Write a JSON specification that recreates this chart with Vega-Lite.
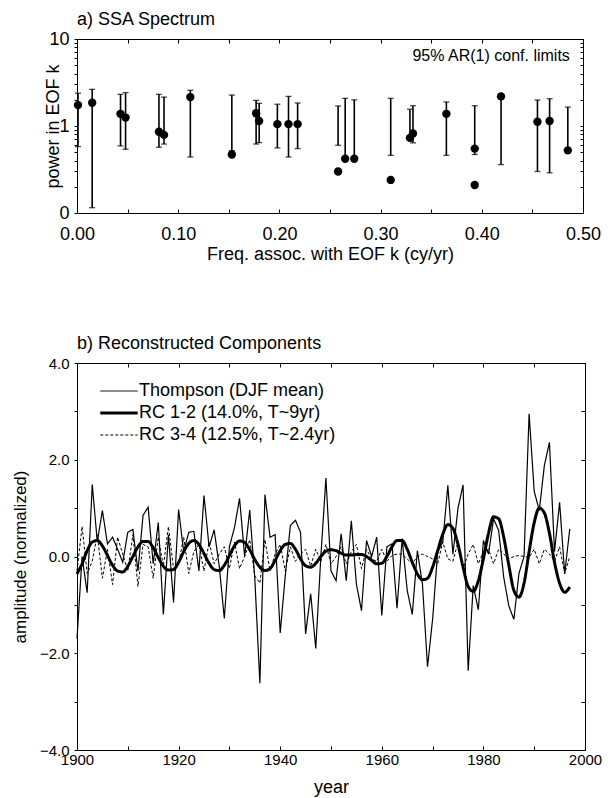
{
  "$schema": "https://vega.github.io/schema/vega-lite/v6.json",
  "padding": {"left": 10, "top": 10, "right": 10, "bottom": 0},
  "spacing": 70,
  "resolve": {"legend": {"strokeDash": "independent"}, "scale": {"strokeDash": "independent"}},
  "config": {
    "font": "Liberation Sans",
    "view": {"stroke": "black", "strokeWidth": 1},
    "scale": {"continuousPadding": 0},
    "axis": {"grid": false, "labelFlush": false, "domainColor": "black", "tickColor": "black", "labelColor": "black", "titleColor": "black", "titleFontWeight": "normal", "labelFont": "Liberation Sans", "titleFont": "Liberation Sans"},
    "title": {"fontWeight": "normal", "color": "black", "font": "Liberation Sans"}
  },
  "datasets": {
    "points": [
      {"f": 0.001, "p": 1.74}, {"f": 0.015, "p": 1.85}, {"f": 0.043, "p": 1.38}, {"f": 0.048, "p": 1.25},
      {"f": 0.081, "p": 0.86}, {"f": 0.086, "p": 0.79}, {"f": 0.112, "p": 2.15}, {"f": 0.153, "p": 0.47},
      {"f": 0.177, "p": 1.40}, {"f": 0.180, "p": 1.14}, {"f": 0.198, "p": 1.05}, {"f": 0.209, "p": 1.05},
      {"f": 0.218, "p": 1.05}, {"f": 0.258, "p": 0.30}, {"f": 0.265, "p": 0.42}, {"f": 0.274, "p": 0.42},
      {"f": 0.310, "p": 0.24}, {"f": 0.329, "p": 0.73}, {"f": 0.332, "p": 0.82}, {"f": 0.365, "p": 1.38},
      {"f": 0.393, "p": 0.55}, {"f": 0.393, "p": 0.21}, {"f": 0.419, "p": 2.19}, {"f": 0.455, "p": 1.12},
      {"f": 0.467, "p": 1.14}, {"f": 0.485, "p": 0.525}
    ],
    "bars": [
      {"f": 0.001, "lo": 0.58, "hi": 2.38}, {"f": 0.015, "lo": 0.115, "hi": 2.64}, {"f": 0.043, "lo": 0.59, "hi": 2.31},
      {"f": 0.048, "lo": 0.54, "hi": 2.42}, {"f": 0.081, "lo": 0.57, "hi": 2.31}, {"f": 0.086, "lo": 0.62, "hi": 2.15},
      {"f": 0.112, "lo": 0.44, "hi": 2.57}, {"f": 0.153, "lo": 0.52, "hi": 2.27}, {"f": 0.177, "lo": 0.62, "hi": 1.97},
      {"f": 0.180, "lo": 0.645, "hi": 1.82}, {"f": 0.198, "lo": 0.56, "hi": 1.78}, {"f": 0.209, "lo": 0.44, "hi": 2.19},
      {"f": 0.218, "lo": 0.55, "hi": 1.84}, {"f": 0.258, "lo": 0.60, "hi": 1.70}, {"f": 0.265, "lo": 0.42, "hi": 2.08},
      {"f": 0.274, "lo": 0.42, "hi": 2.00}, {"f": 0.310, "lo": 0.46, "hi": 2.08}, {"f": 0.329, "lo": 0.71, "hi": 1.56},
      {"f": 0.332, "lo": 0.64, "hi": 1.71}, {"f": 0.365, "lo": 0.46, "hi": 1.89}, {"f": 0.393, "lo": 0.47, "hi": 1.71},
      {"f": 0.419, "lo": 0.36, "hi": 2.19}, {"f": 0.455, "lo": 0.30, "hi": 1.99}, {"f": 0.467, "lo": 0.29, "hi": 2.06},
      {"f": 0.485, "lo": 0.525, "hi": 1.65}
    ],
    "series": [
      {"year": 1900, "T": -1.70, "RC12": -0.36, "RC34": -0.30},
      {"year": 1901, "T": 0.00, "RC12": -0.15, "RC34": 0.62},
      {"year": 1902, "T": -0.75, "RC12": 0.12, "RC34": -0.35},
      {"year": 1903, "T": 1.49, "RC12": 0.30, "RC34": -0.10},
      {"year": 1904, "T": 0.30, "RC12": 0.33, "RC34": 0.45},
      {"year": 1905, "T": 0.95, "RC12": 0.22, "RC34": -0.45},
      {"year": 1906, "T": 0.26, "RC12": 0.02, "RC34": 0.15},
      {"year": 1907, "T": 0.40, "RC12": -0.18, "RC34": -0.58},
      {"year": 1908, "T": 0.15, "RC12": -0.30, "RC34": 0.40},
      {"year": 1909, "T": -0.12, "RC12": -0.32, "RC34": 0.05},
      {"year": 1910, "T": 0.50, "RC12": -0.20, "RC34": -0.30},
      {"year": 1911, "T": 0.56, "RC12": 0.00, "RC34": 0.45},
      {"year": 1912, "T": -0.30, "RC12": 0.20, "RC34": -0.62},
      {"year": 1913, "T": 0.85, "RC12": 0.31, "RC34": 0.25},
      {"year": 1914, "T": 1.02, "RC12": 0.31, "RC34": 0.20},
      {"year": 1915, "T": -0.15, "RC12": 0.18, "RC34": -0.45},
      {"year": 1916, "T": 0.70, "RC12": -0.02, "RC34": 0.40},
      {"year": 1917, "T": -1.20, "RC12": -0.20, "RC34": -0.20},
      {"year": 1918, "T": 0.45, "RC12": -0.28, "RC34": 0.62},
      {"year": 1919, "T": -0.95, "RC12": -0.27, "RC34": -0.25},
      {"year": 1920, "T": 0.97, "RC12": -0.12, "RC34": -0.15},
      {"year": 1921, "T": 0.10, "RC12": 0.10, "RC34": 0.40},
      {"year": 1922, "T": 0.50, "RC12": 0.27, "RC34": -0.35},
      {"year": 1923, "T": 0.52, "RC12": 0.33, "RC34": 0.10},
      {"year": 1924, "T": -0.30, "RC12": 0.25, "RC34": 0.25},
      {"year": 1925, "T": 1.26, "RC12": 0.06, "RC34": -0.30},
      {"year": 1926, "T": 0.20, "RC12": -0.14, "RC34": 0.30},
      {"year": 1927, "T": 0.55, "RC12": -0.27, "RC34": -0.15},
      {"year": 1928, "T": -0.20, "RC12": -0.29, "RC34": 0.05},
      {"year": 1929, "T": -1.28, "RC12": -0.18, "RC34": 0.20},
      {"year": 1930, "T": 0.20, "RC12": 0.02, "RC34": -0.25},
      {"year": 1931, "T": 0.60, "RC12": 0.22, "RC34": 0.30},
      {"year": 1932, "T": 1.20, "RC12": 0.32, "RC34": -0.25},
      {"year": 1933, "T": 0.00, "RC12": 0.29, "RC34": 0.00},
      {"year": 1934, "T": 0.96, "RC12": 0.14, "RC34": 0.35},
      {"year": 1935, "T": -0.45, "RC12": -0.06, "RC34": -0.40},
      {"year": 1936, "T": -2.62, "RC12": -0.22, "RC34": -0.55},
      {"year": 1937, "T": 1.28, "RC12": -0.29, "RC34": 0.35},
      {"year": 1938, "T": 0.40, "RC12": -0.25, "RC34": -0.30},
      {"year": 1939, "T": 0.45, "RC12": -0.08, "RC34": 0.05},
      {"year": 1940, "T": -1.58, "RC12": 0.12, "RC34": 0.25},
      {"year": 1941, "T": -0.40, "RC12": 0.25, "RC34": -0.30},
      {"year": 1942, "T": 0.64, "RC12": 0.27, "RC34": 0.20},
      {"year": 1943, "T": 0.75, "RC12": 0.15, "RC34": -0.10},
      {"year": 1944, "T": 0.50, "RC12": -0.05, "RC34": 0.05},
      {"year": 1945, "T": -1.60, "RC12": -0.19, "RC34": 0.15},
      {"year": 1946, "T": -0.77, "RC12": -0.22, "RC34": -0.20},
      {"year": 1947, "T": -1.90, "RC12": -0.14, "RC34": 0.15},
      {"year": 1948, "T": 0.00, "RC12": 0.00, "RC34": -0.10},
      {"year": 1949, "T": 1.62, "RC12": 0.11, "RC34": 0.25},
      {"year": 1950, "T": -0.30, "RC12": 0.14, "RC34": -0.15},
      {"year": 1951, "T": -0.50, "RC12": 0.12, "RC34": 0.00},
      {"year": 1952, "T": 0.47, "RC12": 0.07, "RC34": 0.20},
      {"year": 1953, "T": -0.50, "RC12": 0.03, "RC34": -0.15},
      {"year": 1954, "T": 0.74, "RC12": 0.03, "RC34": 0.10},
      {"year": 1955, "T": -0.57, "RC12": 0.04, "RC34": 0.25},
      {"year": 1956, "T": -1.12, "RC12": 0.04, "RC34": -0.25},
      {"year": 1957, "T": 0.33, "RC12": 0.00, "RC34": 0.15},
      {"year": 1958, "T": 0.00, "RC12": -0.08, "RC34": -0.05},
      {"year": 1959, "T": 0.40, "RC12": -0.15, "RC34": -0.10},
      {"year": 1960, "T": -1.22, "RC12": -0.14, "RC34": 0.15},
      {"year": 1961, "T": 0.20, "RC12": 0.00, "RC34": -0.10},
      {"year": 1962, "T": 0.26, "RC12": 0.20, "RC34": 0.02},
      {"year": 1963, "T": -1.07, "RC12": 0.33, "RC34": 0.05},
      {"year": 1964, "T": 0.37, "RC12": 0.33, "RC34": 0.05},
      {"year": 1965, "T": -0.70, "RC12": 0.15, "RC34": -0.05},
      {"year": 1966, "T": -1.20, "RC12": -0.12, "RC34": -0.15},
      {"year": 1967, "T": 0.12, "RC12": -0.36, "RC34": 0.00},
      {"year": 1968, "T": -0.57, "RC12": -0.48, "RC34": 0.05},
      {"year": 1969, "T": -2.28, "RC12": -0.45, "RC34": 0.00},
      {"year": 1970, "T": -1.30, "RC12": -0.22, "RC34": -0.05},
      {"year": 1971, "T": 0.10, "RC12": 0.12, "RC34": -0.15},
      {"year": 1972, "T": 0.30, "RC12": 0.46, "RC34": 0.30},
      {"year": 1973, "T": 1.47, "RC12": 0.66, "RC34": -0.05},
      {"year": 1974, "T": 0.05, "RC12": 0.58, "RC34": -0.10},
      {"year": 1975, "T": 1.00, "RC12": 0.25, "RC34": 0.30},
      {"year": 1976, "T": 1.48, "RC12": -0.22, "RC34": -0.25},
      {"year": 1977, "T": -2.36, "RC12": -0.62, "RC34": 0.05},
      {"year": 1978, "T": -0.60, "RC12": -0.72, "RC34": 0.25},
      {"year": 1979, "T": -1.10, "RC12": -0.50, "RC34": -0.15},
      {"year": 1980, "T": 0.33, "RC12": -0.05, "RC34": 0.10},
      {"year": 1981, "T": 0.05, "RC12": 0.48, "RC34": 0.15},
      {"year": 1982, "T": 0.78, "RC12": 0.82, "RC34": -0.15},
      {"year": 1983, "T": 0.54, "RC12": 0.78, "RC34": 0.15},
      {"year": 1984, "T": -0.43, "RC12": 0.40, "RC34": 0.05},
      {"year": 1985, "T": -1.02, "RC12": -0.18, "RC34": -0.05},
      {"year": 1986, "T": -1.30, "RC12": -0.70, "RC34": 0.00},
      {"year": 1987, "T": -0.35, "RC12": -0.84, "RC34": 0.02},
      {"year": 1988, "T": 0.00, "RC12": -0.55, "RC34": 0.00},
      {"year": 1989, "T": 2.95, "RC12": 0.10, "RC34": -0.02},
      {"year": 1990, "T": 1.35, "RC12": 0.70, "RC34": 0.15},
      {"year": 1991, "T": 0.95, "RC12": 1.00, "RC34": -0.15},
      {"year": 1992, "T": 1.88, "RC12": 0.90, "RC34": 0.15},
      {"year": 1993, "T": 2.36, "RC12": 0.48, "RC34": 0.05},
      {"year": 1994, "T": 0.10, "RC12": -0.12, "RC34": -0.10},
      {"year": 1995, "T": 1.12, "RC12": -0.55, "RC34": 0.20},
      {"year": 1996, "T": -0.36, "RC12": -0.74, "RC34": -0.35},
      {"year": 1997, "T": 0.57, "RC12": -0.63, "RC34": 0.00}
    ]
  },
  "vconcat": [
    {
      "title": {"text": "a) SSA Spectrum", "anchor": "start", "frame": "group", "fontSize": 18, "offset": 1},
      "width": 506,
      "height": 174,
      "layer": [
        {
          "data": {"name": "bars"},
          "mark": {"type": "rule", "color": "black", "strokeWidth": 1.6},
          "encoding": {
            "x": {"field": "f", "type": "quantitative", "scale": {"domain": [0, 0.5], "padding": 0, "nice": false},
              "axis": {"values": [0, 0.05, 0.1, 0.15, 0.2, 0.25, 0.3, 0.35, 0.4, 0.45, 0.5], "labelExpr": "round(datum.value*100) % 10 == 0 ? format(datum.value, '.2f') : ''", "tickSize": -4, "labelPadding": 16, "labelFontSize": 18, "title": "Freq. assoc. with EOF k (cy/yr)", "titleFontSize": 18, "titlePadding": 2}},
            "y": {"field": "lo", "type": "quantitative", "scale": {"type": "log", "domain": [0.1, 10], "padding": 0, "nice": false},
              "axis": {"values": [0.1, 0.2, 0.3, 0.4, 0.5, 0.6, 0.7, 0.8, 0.9, 1, 2, 3, 4, 5, 6, 7, 8, 9, 10], "labelExpr": "datum.value == 10 ? '10' : (datum.value == 1 ? '1' : (datum.value == 0.1 ? '0' : ''))", "tickSize": 3, "labelPadding": 5, "labelFontSize": 18, "title": "power in EOF k", "titleFontSize": 18, "titlePadding": -14}},
            "y2": {"field": "hi"}
          }
        },
        {
          "data": {"name": "bars"},
          "mark": {"type": "tick", "orient": "horizontal", "color": "black", "size": 6, "thickness": 1.3},
          "encoding": {
            "x": {"field": "f", "type": "quantitative", "axis": null},
            "y": {"field": "lo", "type": "quantitative", "axis": null}
          }
        },
        {
          "data": {"name": "bars"},
          "mark": {"type": "tick", "orient": "horizontal", "color": "black", "size": 6, "thickness": 1.3},
          "encoding": {
            "x": {"field": "f", "type": "quantitative", "axis": null},
            "y": {"field": "hi", "type": "quantitative", "axis": null}
          }
        },
        {
          "data": {"name": "points"},
          "mark": {"type": "circle", "color": "black", "opacity": 1, "size": 70},
          "encoding": {
            "x": {"field": "f", "type": "quantitative", "axis": null},
            "y": {"field": "p", "type": "quantitative", "axis": null}
          }
        },
        {
          "data": {"values": [{"label": "95% AR(1) conf. limits"}]},
          "mark": {"type": "text", "align": "right", "baseline": "middle", "fontSize": 16, "color": "black"},
          "encoding": {
            "text": {"field": "label"},
            "x": {"datum": 0.487, "type": "quantitative", "axis": null},
            "y": {"datum": 6.3, "type": "quantitative", "axis": null}
          }
        },
        {
          "data": {"name": "points"},
          "mark": {"type": "point", "opacity": 0},
          "encoding": {
            "x": {"field": "f", "type": "quantitative", "axis": {"orient": "top", "values": [0, 0.05, 0.1, 0.15, 0.2, 0.25, 0.3, 0.35, 0.4, 0.45, 0.5], "labels": false, "tickSize": -4, "title": null}},
            "y": {"field": "p", "type": "quantitative", "axis": {"orient": "right", "values": [0.1, 0.2, 0.3, 0.4, 0.5, 0.6, 0.7, 0.8, 0.9, 1, 2, 3, 4, 5, 6, 7, 8, 9, 10], "labels": false, "tickSize": -3, "title": null}}
          }
        }
      ],
      "resolve": {"axis": {"x": "independent", "y": "independent"}}
    },
    {
      "title": {"text": "b) Reconstructed Components", "anchor": "start", "frame": "group", "fontSize": 18, "offset": 3},
      "width": 508,
      "height": 387,
      "data": {"name": "series"},
      "transform": [{"fold": ["T", "RC12", "RC34"], "as": ["series", "value"]}],
      "layer": [
        {
          "transform": [{"filter": "datum.series == 'T'"}],
          "mark": {"type": "line", "color": "black", "strokeWidth": 1.2},
          "encoding": {
            "x": {"field": "year", "type": "quantitative", "scale": {"domain": [1900, 2000], "padding": 0, "nice": false},
              "axis": {"values": [1900, 1910, 1920, 1930, 1940, 1950, 1960, 1970, 1980, 1990, 2000], "labelExpr": "datum.value % 20 == 0 ? format(datum.value, 'd') : ''", "tickSize": -4, "labelPadding": 6, "labelFontSize": 15, "title": "year", "titleFontSize": 18, "titlePadding": 11}},
            "y": {"field": "value", "type": "quantitative", "scale": {"domain": [-4, 4], "padding": 0, "nice": false},
              "axis": {"values": [-4, -3, -2, -1, 0, 1, 2, 3, 4], "labelExpr": "datum.value % 2 == 0 ? format(datum.value, '.1f') : ''", "tickSize": 3, "labelPadding": 5, "labelFontSize": 15, "title": "amplitude (normalized)", "titleFontSize": 17, "titlePadding": 10}},
            "strokeDash": {"field": "series", "type": "nominal",
              "scale": {"domain": ["T", "RC12", "RC34"], "range": [[1, 0], [1, 0], [3, 2]]},
              "legend": {"orient": "none", "legendX": 33, "legendY": 19, "title": null, "padding": 0, "symbolType": "stroke", "symbolSize": 1400, "symbolStrokeColor": "black", "symbolStrokeWidth": 1, "labelFontSize": 18, "labelLimit": 0, "labelColor": "black", "labelOffset": 11, "rowPadding": 4, "labelExpr": "datum.value == 'T' ? 'Thompson (DJF mean)' : (datum.value == 'RC12' ? 'RC 1-2 (14.0%, T~9yr)' : 'RC 3-4 (12.5%, T~2.4yr)')", "encode": {"symbols": {"update": {"strokeWidth": {"signal": "datum.value == 'RC12' ? 3 : 1"}}}}}}
          }
        },
        {
          "transform": [{"filter": "datum.series == 'RC34'"}],
          "mark": {"type": "line", "color": "black", "strokeWidth": 1},
          "encoding": {
            "x": {"field": "year", "type": "quantitative", "axis": null},
            "y": {"field": "value", "type": "quantitative", "axis": null},
            "strokeDash": {"field": "series", "type": "nominal"}
          }
        },
        {
          "transform": [{"filter": "datum.series == 'RC12'"}],
          "mark": {"type": "line", "color": "black", "strokeWidth": 3, "interpolate": "monotone"},
          "encoding": {
            "x": {"field": "year", "type": "quantitative", "axis": null},
            "y": {"field": "value", "type": "quantitative", "axis": null},
            "strokeDash": {"field": "series", "type": "nominal"}
          }
        },
        {
          "transform": [{"filter": "datum.series == 'T'"}],
          "mark": {"type": "point", "opacity": 0},
          "encoding": {
            "x": {"field": "year", "type": "quantitative", "axis": {"orient": "top", "values": [1900, 1910, 1920, 1930, 1940, 1950, 1960, 1970, 1980, 1990, 2000], "labels": false, "tickSize": -4, "title": null}},
            "y": {"field": "value", "type": "quantitative", "axis": {"orient": "right", "values": [-4, -3, -2, -1, 0, 1, 2, 3, 4], "labels": false, "tickSize": -4, "title": null}}
          }
        }
      ],
      "resolve": {"axis": {"x": "independent", "y": "independent"}}
    }
  ]
}
